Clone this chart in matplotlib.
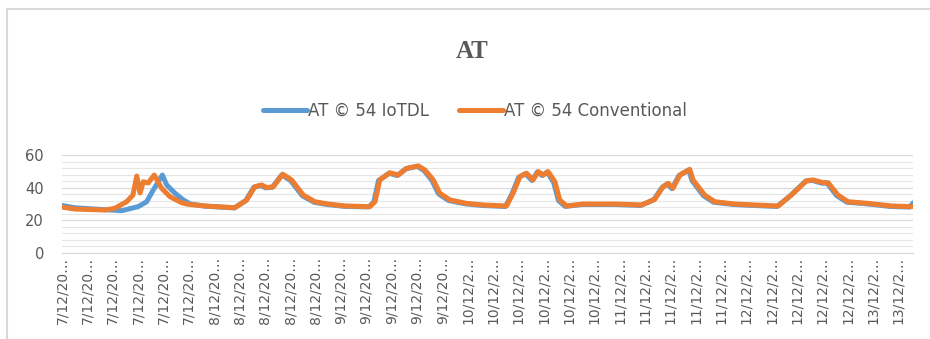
import matplotlib.pyplot as plt
from matplotlib.lines import Line2D
from matplotlib.ticker import MultipleLocator

# readings, x in category steps (one step per axis label)
conv_x = [0.00, 0.51, 1.70, 2.09, 2.55, 2.80, 2.95, 3.08, 3.21, 3.40, 3.64, 3.93, 4.26, 4.72, 4.98,
          5.64, 6.82, 7.29, 7.61, 7.88, 8.08, 8.34, 8.71, 9.06, 9.52, 9.98, 10.50, 11.16,
          12.15, 12.35, 12.54, 12.94, 13.27, 13.60, 14.06, 14.32, 14.65, 14.91, 15.31, 15.96,
          16.62, 17.54, 17.80, 18.07, 18.33, 18.59, 18.79, 18.99, 19.18, 19.45, 19.64, 19.91,
          20.56, 21.88, 22.87, 23.39, 23.72, 23.92, 24.11, 24.38, 24.77, 24.90, 25.36, 25.76,
          26.55, 27.34, 28.26, 28.78, 29.38, 29.64, 30.03, 30.23, 30.62, 31.02, 31.81, 32.73, 33.58]
conv_y = [28.0, 26.8, 26.2, 27.3, 31.3, 35.4, 47.1, 36.7, 43.6, 42.8, 47.7, 39.6, 34.4, 30.7, 29.7,
          28.7, 27.6, 32.4, 40.5, 41.6, 40.0, 40.5, 48.2, 44.7, 35.4, 31.3, 29.9, 28.7,
          28.3, 31.3, 44.7, 49.1, 47.7, 51.8, 53.3, 50.8, 44.7, 36.5, 32.4, 30.3,
          29.3, 28.7, 36.5, 46.7, 48.8, 44.7, 49.8, 47.7, 49.8, 43.6, 32.4, 28.7,
          29.9, 29.9, 29.3, 32.8, 40.5, 42.6, 39.6, 47.7, 51.2, 44.7, 35.4, 31.3,
          29.9, 29.3, 28.7, 35.4, 44.2, 44.7, 43.0, 43.0, 35.4, 31.3, 30.3, 28.7, 28.3]

iot_x = [0.00, 0.50, 1.81, 2.36, 3.01, 3.34, 3.60, 3.96, 4.13, 4.46, 4.79, 5.05,
         5.62, 6.80, 7.25, 7.57, 7.84, 8.04, 8.30, 8.67, 9.02, 9.48, 9.94, 10.46, 11.12,
         12.10, 12.30, 12.49, 12.90, 13.23, 13.56, 14.02, 14.28, 14.60, 14.86, 15.26, 15.92,
         16.58, 17.50, 17.75, 18.02, 18.29, 18.55, 18.75, 18.95, 19.14, 19.40, 19.59, 19.86,
         20.52, 21.84, 22.83, 23.35, 23.68, 23.88, 24.07, 24.34, 24.73, 24.86, 25.31, 25.71,
         26.51, 27.30, 28.22, 28.74, 29.34, 29.60, 29.99, 30.19, 30.57, 30.97, 31.77, 32.69,
         33.45, 33.58]
iot_y = [29.0, 27.6, 26.3, 25.8, 28.3, 31.3, 38.5, 47.7, 41.6, 36.5, 32.4, 30.0,
         28.6, 27.5, 32.0, 40.2, 41.3, 39.8, 40.2, 47.8, 44.3, 35.0, 31.0, 29.6, 28.5,
         28.1, 31.0, 44.3, 48.8, 47.4, 51.5, 53.0, 50.5, 44.3, 36.1, 32.0, 30.0,
         29.0, 28.4, 36.0, 46.3, 48.5, 44.3, 49.5, 47.4, 49.5, 43.2, 32.0, 28.4,
         29.6, 29.6, 29.0, 32.5, 40.1, 42.2, 39.3, 47.3, 50.8, 44.3, 35.0, 31.0,
         29.6, 29.0, 28.4, 35.0, 43.9, 44.4, 42.7, 42.7, 35.0, 31.0, 30.0, 28.4,
         28.0, 30.5]

tick_labels = (["7/12/20…"] * 6 + ["8/12/20…"] * 5 + ["9/12/20…"] * 5 +
               ["10/12/2…"] * 6 + ["11/12/2…"] * 5 + ["12/12/2…"] * 5 + ["13/12/2…"] * 2)

series_names = ["AT © 54 IoTDL", "AT © 54 Conventional"]
blue = "#5b9bd5"
orange = "#ed7d31"
grey = "#595959"

fig = plt.figure(figsize=(9.3, 3.39), dpi=100)
ax = fig.add_axes([62 / 930, 1 - 252.7 / 339, 851 / 930, 97.7 / 339])

ax.plot(iot_x, iot_y, color=blue, lw=3.6, solid_joinstyle="round", solid_capstyle="round")
ax.plot(conv_x, conv_y, color=orange, lw=3.6, solid_joinstyle="round", solid_capstyle="round")

ax.set_xlim(0, 33.58)
ax.set_ylim(0, 60)
ax.set_xticks(range(len(tick_labels)))
ax.set_xticklabels(tick_labels, rotation=90, fontsize=10, color=grey, va="top")
ax.yaxis.set_major_locator(MultipleLocator(20))
ax.yaxis.set_minor_locator(MultipleLocator(4))
ax.tick_params(axis="y", labelsize=10.5, labelcolor=grey, length=0, pad=13, which="both")
ax.tick_params(axis="x", length=0, pad=3)
ax.grid(True, axis="y", which="major", color="#d9d9d9", lw=0.9)
ax.grid(True, axis="y", which="minor", color="#e6e6e6", lw=0.8)
ax.set_axisbelow(True)
for s in ["top", "right", "left"]:
    ax.spines[s].set_visible(False)
ax.spines["bottom"].set_color("#d9d9d9")

fig.text(472 / 930, 1 - 52 / 339, "AT", ha="center", va="center", fontsize=18,
         fontweight="bold", family="Liberation Serif", color=grey)

handles = [Line2D([], [], color=blue, lw=3.6, solid_capstyle="round"),
           Line2D([], [], color=orange, lw=3.6, solid_capstyle="round")]
leg = fig.legend(handles, series_names, loc="center", bbox_to_anchor=(475 / 930, 1 - 111 / 339),
                 ncol=2, frameon=False, fontsize=12, handlelength=2.6, handletextpad=0.05,
                 columnspacing=1.85, labelcolor=grey)

# chart area outline
fig.add_artist(Line2D([7 / 930, 1], [1 - 8.5 / 339] * 2, color="#d9d9d9", lw=1.5))
fig.add_artist(Line2D([7 / 930] * 2, [0, 1 - 8.5 / 339], color="#d9d9d9", lw=1.5))

fig.savefig("out.png", dpi=100)
